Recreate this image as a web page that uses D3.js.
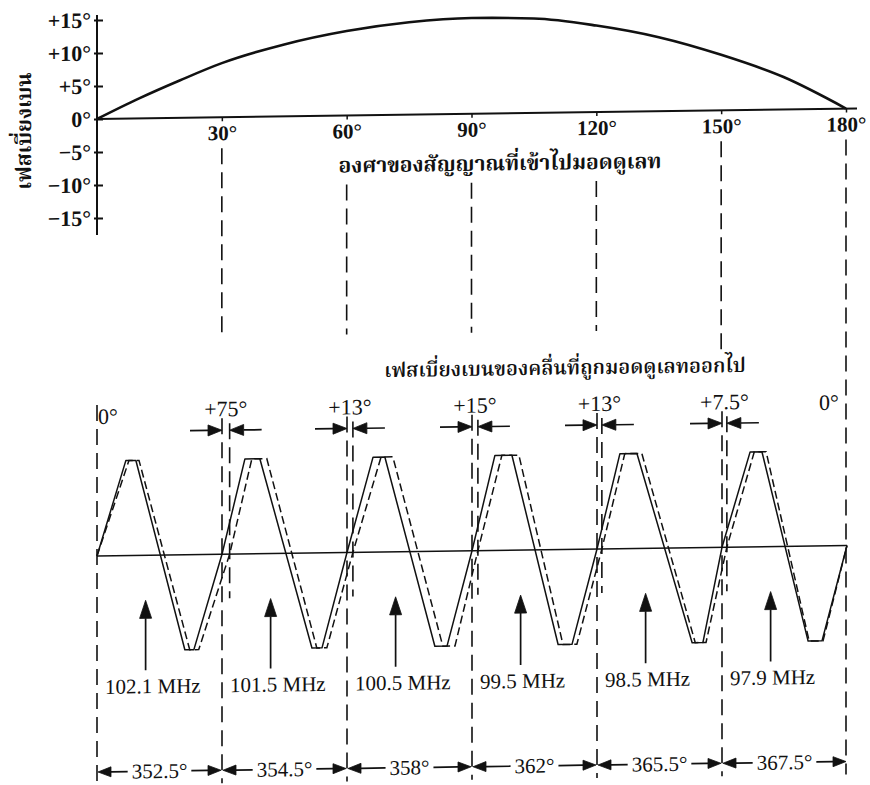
<!DOCTYPE html>
<html lang="th">
<head>
<meta charset="UTF-8">
<title>เฟสเบี่ยงเบน</title>
<script src="https://cdn.jsdelivr.net/npm/d3@7"></script>
<style>
  body { margin: 0; background: #fff; }
  text { font-family: "Liberation Serif", "DejaVu Serif", serif; fill: #111; }
  .thai { font-family: "Noto Serif Thai", "Noto Sans Thai", "Loma", "Garuda", "Norasi", sans-serif; }
</style>
</head>
<body>
<div id="chart"></div>
<script>
// top graph: phase deviation against angle of the input signal
var inAngles = [0, 10, 20, 30, 45, 60, 75, 90, 105, 120, 135, 150, 165, 180];
var phaseDev = [0, 3.0, 5.7, 8.2, 10.9, 12.8, 14.0, 14.5, 14.3, 13.1, 11.2, 8.4, 4.9, 0];
var yTicks = [15, 10, 5, 0, -5, -10, -15];
var xTicks = [30, 60, 90, 120, 150, 180];

// bottom: carrier, degrees inside each 360° cycle
var peakStart = [83, 66, 75, 66, 66, 81];
var peakEnd = [112, 109, 109, 115, 115, 115];
var troughStart = [253, 259, 253, 248, 274, 248];
var troughEnd = [279, 288, 288, 288, 305, 288];
// how far the modulated (dashed) wave sits from the carrier, degrees
var crossShift = [0, 22, 17, 17, 14, 14, 0];
var peakShift = [9, 20, 23, 20, 14, 12];
var troughShift = [14, 14, 23, 14, 9, 3];

var shiftLabels = ["0°", "+75°", "+13°", "+15°", "+13°", "+7.5°", "0°"];
var freqLabels = ["102.1 MHz", "101.5 MHz", "100.5 MHz", "99.5 MHz", "98.5 MHz", "97.9 MHz"];
var periodLabels = ["352.5°", "354.5°", "358°", "362°", "365.5°", "367.5°"];

var W = 870, H = 785;
var svg = d3.select("#chart").append("svg")
    .attr("width", W).attr("height", H);

// the scan is slightly tilted
var g = svg.append("g").attr("transform", "translate(0,1.35) skewY(-0.8)");

// line with a filled head at (x2, y2)
function arrow(x1, y1, x2, y2, len, wid) {
    var a = Math.atan2(y2 - y1, x2 - x1), c = Math.cos(a), s = Math.sin(a);
    var bx0 = x2 - len * c, by0 = y2 - len * s;
    g.append("line").attr("x1", x1).attr("y1", y1).attr("x2", bx0).attr("y2", by0)
        .attr("stroke", "#111").attr("stroke-width", 1.7);
    g.append("path")
        .attr("d", "M" + x2 + "," + y2 +
            "L" + (bx0 - wid / 2 * s) + "," + (by0 + wid / 2 * c) +
            "L" + (bx0 + wid / 2 * s) + "," + (by0 - wid / 2 * c) + "Z")
        .attr("fill", "#111").attr("stroke", "#111").attr("stroke-width", 0.8);
}

// ---------- top graph ----------
var tx = d3.scaleLinear().domain([0, 180]).range([97, 846]);
var ty = d3.scaleLinear().domain([-15, 15]).range([218, 20]);

g.append("line").attr("x1", 97).attr("x2", 97).attr("y1", 15).attr("y2", 235)
    .attr("stroke", "#111").attr("stroke-width", 2);
g.append("line").attr("x1", 97).attr("x2", 857).attr("y1", ty(0)).attr("y2", ty(0))
    .attr("stroke", "#111").attr("stroke-width", 2);

var yAxis = g.append("g").attr("transform", "translate(97,0)")
    .call(d3.axisLeft(ty).tickValues(yTicks).tickSizeInner(-6).tickSizeOuter(0).tickPadding(6)
        .tickFormat(d => (d > 0 ? "+" : d < 0 ? "\u2212" : "") + Math.abs(d) + "°"));
yAxis.select(".domain").remove();
yAxis.selectAll("line").attr("stroke", "#111").attr("stroke-width", 2).attr("x1", -3);
yAxis.selectAll("text").attr("font-size", 22).attr("font-weight", "bold").attr("fill", "#111");

var xAxis = g.append("g").attr("transform", "translate(0," + ty(0) + ")")
    .call(d3.axisBottom(tx).tickValues(xTicks).tickSize(4).tickPadding(4).tickFormat(d => d + "°"));
xAxis.select(".domain").remove();
xAxis.selectAll("line").attr("stroke", "#111").attr("stroke-width", 1.5);
xAxis.selectAll("text").attr("font-size", 21).attr("font-weight", "bold").attr("fill", "#111");

var devLine = d3.line()
    .x((d, i) => tx(inAngles[i]))
    .y(d => ty(d))
    .curve(d3.curveMonotoneX);
g.append("path").datum(phaseDev)
    .attr("fill", "none").attr("stroke", "#111").attr("stroke-width", 2.6)
    .attr("d", devLine);

g.append("text").attr("class", "thai")
    .attr("transform", "translate(31,130) rotate(-90)")
    .attr("text-anchor", "middle").style("font-size", "21px").style("font-weight", "bold")
    .text("เฟสเบี่ยงเบน");
g.append("text").attr("class", "thai")
    .attr("x", 500).attr("y", 176).attr("text-anchor", "middle")
    .style("font-size", "21px").style("font-weight", "bold")
    .text("องศาของสัญญาณที่เข้าไปมอดดูเลท");
g.append("text").attr("class", "thai")
    .attr("x", 565).attr("y", 381).attr("text-anchor", "middle")
    .style("font-size", "20px").style("font-weight", "600")
    .text("เฟสเบี่ยงเบนของคลื่นที่ถูกมอดดูเลทออกไป");

// ---------- bottom graph ----------
var bx = d3.scaleLinear().domain([0, 2160]).range([97, 847]);
var by = d3.scaleLinear().domain([-1, 1]).range([651, 461]);

var solid = [], dashed = [];
peakStart.forEach(function (p, k) {
    var c = 360 * k;
    solid.push([c, 0], [c + p, 1], [c + peakEnd[k], 1], [c + troughStart[k], -1], [c + troughEnd[k], -1]);
    dashed.push([c + crossShift[k], 0], [c + p + peakShift[k], 1], [c + peakEnd[k] + peakShift[k], 1],
        [c + troughStart[k] + troughShift[k], -1], [c + troughEnd[k] + troughShift[k], -1]);
});
solid.push([2160, 0]);
dashed.push([2160, 0]);

var wave = d3.line().x(d => bx(d[0])).y(d => by(d[1]));

// vertical dashed guides
var guides = [];
xTicks.forEach(function (a, k) {
    var x = tx(a);
    var under = x > 320 && x < 680;   // below the axis title
    if (k < xTicks.length - 1) {
        guides.push([x, under ? 188 : 150, k === 4 ? 360 : 338]);
    } else {
        guides.push([x, 150, 785]);
    }
});
d3.range(6).forEach(function (k) {
    guides.push([bx(360 * k), k === 0 ? 405 : 420, 785]);
    if (k > 0) guides.push([bx(360 * k + crossShift[k]), 425, 600]);
});
g.selectAll(".guide").data(guides).enter().append("line")
    .attr("class", "guide")
    .attr("x1", d => d[0]).attr("x2", d => d[0])
    .attr("y1", d => d[1]).attr("y2", d => d[2])
    .attr("stroke", "#111").attr("stroke-width", 1.6)
    .attr("stroke-dasharray", "16,8");

g.append("line").attr("x1", bx(0)).attr("x2", bx(2160)).attr("y1", by(0)).attr("y2", by(0))
    .attr("stroke", "#111").attr("stroke-width", 1.5);

g.append("path").datum(solid).attr("fill", "none").attr("stroke", "#111")
    .attr("stroke-width", 1.5).attr("stroke-linejoin", "round").attr("d", wave);
g.append("path").datum(dashed).attr("fill", "none").attr("stroke", "#111")
    .attr("stroke-width", 1.5).attr("stroke-dasharray", "8,4").attr("d", wave);

// phase shift labels with inward arrows
shiftLabels.forEach(function (s, k) {
    var xl = bx(360 * k), xr = bx(360 * k + crossShift[k]);
    if (k === 0 || k === shiftLabels.length - 1) {
        g.append("text").attr("x", k === 0 ? xl + 11 : xl - 18).attr("y", k === 0 ? 424 : 420)
            .attr("font-size", 22).attr("text-anchor", "middle").text(s);
        return;
    }
    g.append("text").attr("x", (xl + xr) / 2).attr("y", 418)
        .attr("font-size", 22).attr("text-anchor", "middle").text(s);
    arrow(xl - 32, 432, xl, 432, 14, 11);
    arrow(xr + 32, 432, xr, 432, 14, 11);
});

// frequency arrows and labels
freqLabels.forEach(function (f, k) {
    var xa = bx(360 * k + 140);
    arrow(xa, 671, xa, 601, 18, 12);
    g.append("text").attr("x", bx(360 * k) + 8).attr("y", 694)
        .attr("font-size", 21).text(f);
});

// period of each modulated cycle
periodLabels.forEach(function (p, k) {
    var x0 = bx(360 * k), x1 = bx(360 * (k + 1)), mid = (x0 + x1) / 2;
    var t = g.append("text").attr("x", mid).attr("y", 779)
        .attr("font-size", 21).attr("text-anchor", "middle").text(p);
    var w = t.node().getComputedTextLength();
    arrow(mid - w / 2 - 4, 772, x0 + 1, 772, 13, 10);
    arrow(mid + w / 2 + 4, 772, x1 - 1, 772, 13, 10);
});
</script>
</body>
</html>
